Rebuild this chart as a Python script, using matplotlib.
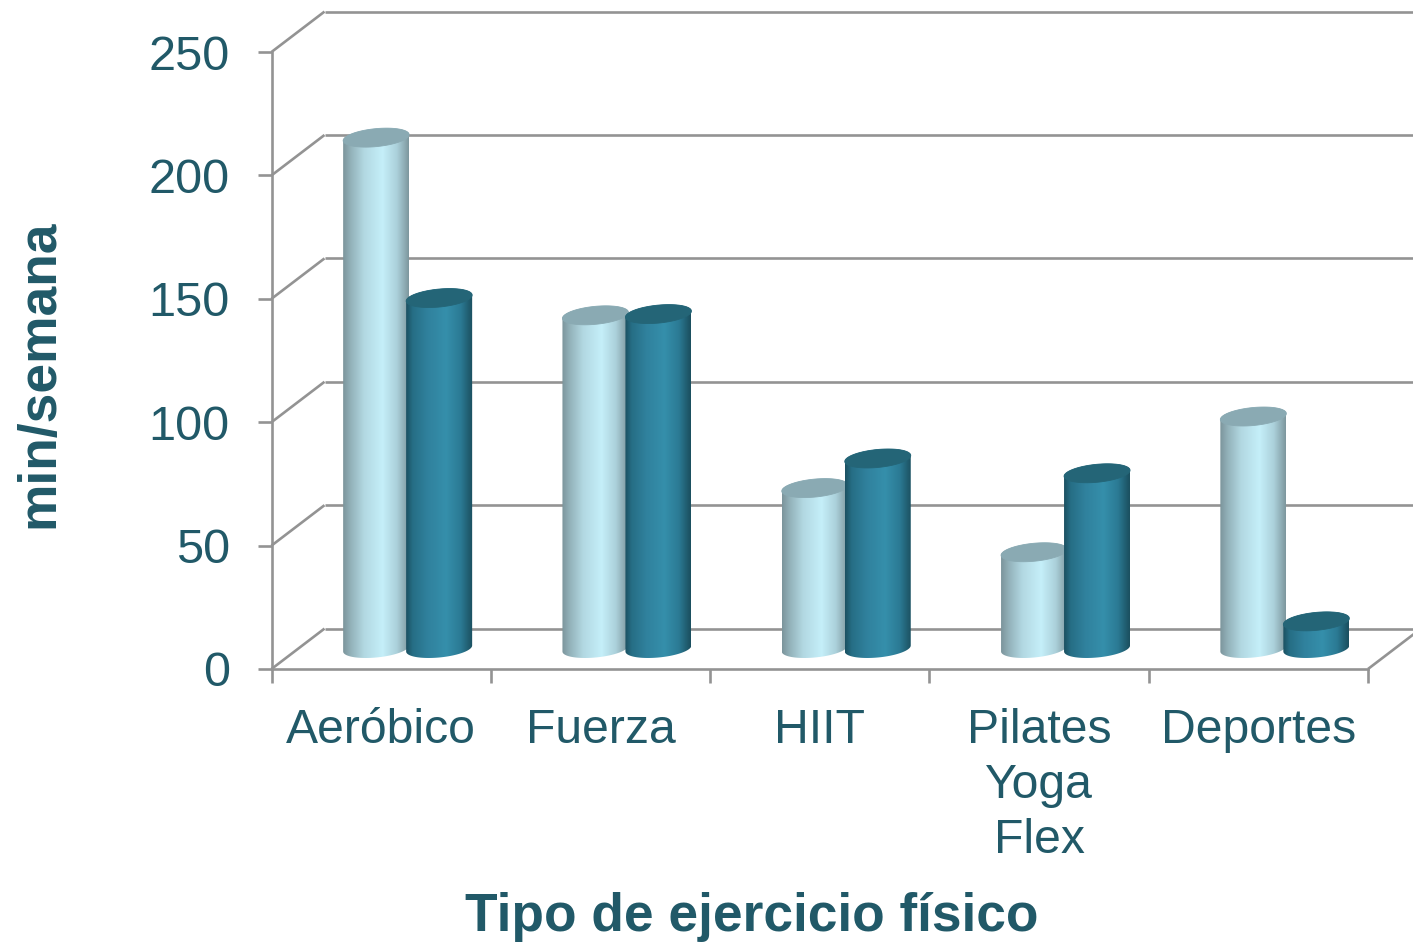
import numpy as np
import matplotlib
matplotlib.use("Agg")
import matplotlib.pyplot as plt
from matplotlib.path import Path
from matplotlib.patches import PathPatch
from matplotlib.colors import LinearSegmentedColormap

categories = ["Aeróbico", "Fuerza", "HIIT", "Pilates\nYoga\nFlex", "Deportes"]
serie_a = [207, 135, 65, 39, 94]
serie_b = [142, 135.5, 77, 71, 11]
y_ticks = [0, 50, 100, 150, 200, 250]
y_label = "min/semana"
x_label = "Tipo de ejercicio físico"

W, H = 1413, 942
TEXT = "#215968"
GRID = "#939393"
LW = 1.9
plt.rcParams["font.family"] = ["Liberation Sans", "DejaVu Sans"]

fig = plt.figure(figsize=(W / 100, H / 100), dpi=100)
L, R, T, B = 271.5, 1368, 52, 669
ax = fig.add_axes([L / W, 1 - B / H, (R - L) / W, (B - T) / H])
ax.patch.set_alpha(0)

px_x = (R - L) / 5      # pixels per category
px_y = (B - T) / 250    # pixels per unit
depth_x, depth_y = 53 / px_x, 40.4 / px_y
base_x, base_y = 26.5 / px_x, 20.5 / px_y
half_w = 33 / px_x
offset = 31.5 / px_x
ell_b = 9.0 / px_y
ell_s = 3.0 / px_y

cmap_a = LinearSegmentedColormap.from_list("a", [(0, "#7b949b"), (0.12, "#93b2ba"), (0.32, "#b2d8e2"),
                                                  (0.6, "#c5eff9"), (0.82, "#abd0da"), (0.95, "#8aa7af"), (1, "#7d969d")])
cmap_b = LinearSegmentedColormap.from_list("b", [(0, "#1b5061"), (0.1, "#266e85"), (0.32, "#30819d"),
                                                  (0.6, "#358fab"), (0.82, "#2b7a94"), (0.95, "#1f5a6c"), (1, "#1b4f5f")])
grad = np.linspace(0, 1, 256).reshape(1, -1)

# walls and floor
line = dict(color=GRID, lw=LW, clip_on=False, zorder=1, solid_capstyle="butt")
for v in y_ticks:
    ax.plot([0, depth_x], [v, v + depth_y], **line)
    ax.plot([depth_x, 5.3], [v + depth_y, v + depth_y], **line)
ax.plot([5, 5 + depth_x], [0, depth_y], **line)


def ellipse(cx, cy, t):
    return cx + half_w * np.cos(t), cy + ell_b * np.sin(t) + ell_s * np.cos(t)


def cylinder(cx, value, cmap, top_color, z):
    base = base_y
    top = base_y + value
    t_low = np.linspace(np.pi, 2 * np.pi, 60)
    t_up = np.linspace(0, np.pi, 60)
    xb, yb = ellipse(cx, base, t_low)
    xt, yt = ellipse(cx, top, t_up)
    verts = np.vstack([np.column_stack([xb, yb]), np.column_stack([xt, yt]), [[xb[0], yb[0]]]])
    clip = PathPatch(Path(verts), transform=ax.transData, fc="none", ec="none")
    ax.add_patch(clip)
    im = ax.imshow(grad, cmap=cmap, aspect="auto", zorder=z, interpolation="bilinear",
                   extent=[cx - half_w, cx + half_w, base - 2 * ell_b, top + 2 * ell_b])
    im.set_clip_path(clip)
    tt = np.linspace(0, 2 * np.pi, 120)
    xe, ye = ellipse(cx, top, tt)
    ax.fill(xe, ye, color=top_color, zorder=z + 0.1, clip_on=False, lw=0.6, ec=top_color)


centers = np.arange(len(categories)) + 0.5
for i, c in enumerate(centers):
    cx = c + base_x
    cylinder(cx - offset, serie_a[i], cmap_a, "#8aaab3", 3 + i)
    cylinder(cx + offset, serie_b[i], cmap_b, "#246577", 3.5 + i)

ax.set_xlim(0, 5)
ax.set_ylim(0, 250)
for s in ("top", "right"):
    ax.spines[s].set_visible(False)
for s in ("left", "bottom"):
    ax.spines[s].set_color(GRID)
    ax.spines[s].set_linewidth(LW)
    ax.spines[s].set_zorder(2)

ax.set_yticks(y_ticks)
ax.set_xticks(np.arange(6))
ax.set_xticks(centers, minor=True)
ax.set_xticklabels([])
ax.set_xticklabels(categories, minor=True, linespacing=1.29)
ax.tick_params(axis="y", length=10, width=LW, color=GRID, labelcolor=TEXT, labelsize=35, pad=20)
ax.tick_params(axis="x", which="major", length=10, width=LW, color=GRID)
ax.tick_params(axis="x", which="minor", length=0, labelcolor=TEXT, labelsize=34.7, pad=28)

fig.text(752 / W, 1 - 917 / H, x_label, ha="center", va="center", fontsize=38.3,
         fontweight="bold", color=TEXT)
fig.text(39.5 / W, 1 - 374 / H, y_label, ha="center", va="center", rotation=90, fontsize=38.4,
         fontweight="bold", color=TEXT)

fig.savefig("out.png", dpi=100, facecolor="white")
